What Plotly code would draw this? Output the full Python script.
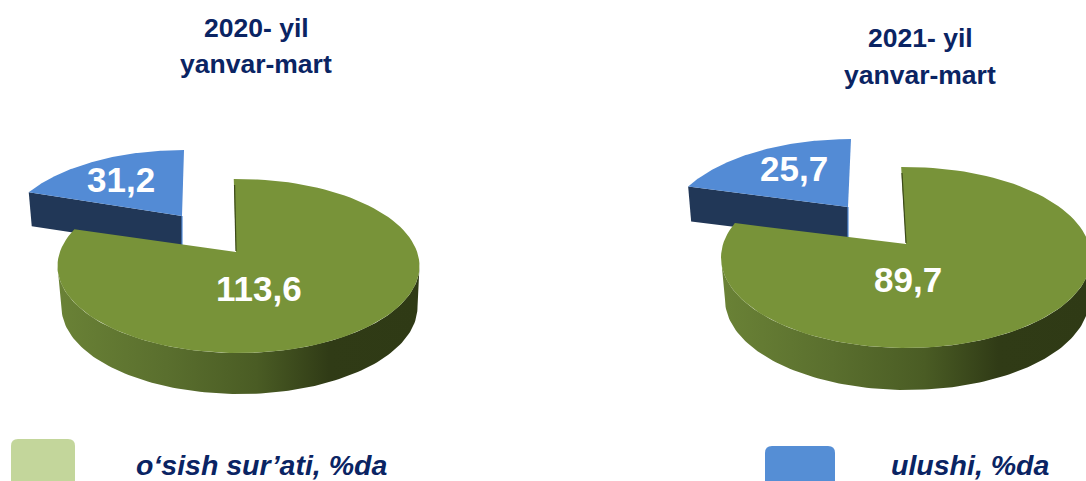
import numpy as np
import plotly.graph_objects as go

# ---- data ----
years = ["2020- yil<br>yanvar-mart", "2021- yil<br>yanvar-mart"]
growth_values = [113.6, 89.7]
share_values = [31.2, 25.7]
legend_labels = ["o‘sish sur’ati, %da", "ulushi, %da"]

# ---- style ----
GREEN = "#789339"
BLUE = "#538bd5"
NAVY_WALL = "#213757"
TEXT = "#0a2463"
FONT = "Liberation Sans"
WALL_SCALE = [[0, "#6a8236"], [0.3, "#5a6f2e"], [0.55, "#4a5c24"], [0.75, "#303b16"], [1, "#2f3a15"]]
# layout of each 3-D pie, in page units
LAYOUT = [
    dict(c=(238.5, 266), r=(181, 87), apex=(236, 252), depth=41,
         bc=(184, 237), bapex=(182, 216), bdepth=33,
         title_x=256, title_y=(28, 64), lg=(259, 288), lb=(121, 179)),
    dict(c=(906, 257.5), r=(185, 90.5), apex=(906, 244), depth=42,
         bc=(851, 229.5), bapex=(848, 207), bdepth=34,
         title_x=920, title_y=(38, 75), lg=(908, 279), lb=(794, 168)),
]
EXTRA = 14   # perspective widening of the large slice, degrees


def rim(c, r, t0, t1, n=120):
    t = np.radians(np.linspace(t0, t1, n))
    return c[0] + r[0] * np.sin(t), c[1] - r[1] * np.cos(t)


fig = go.Figure()


def poly(x, y, **kw):
    fig.add_trace(go.Scatter(x=list(x), y=list(y), mode="lines", fill="toself",
                             line=dict(width=0), hoverinfo="skip", showlegend=False, **kw))


for g, s, L in zip(growth_values, share_values, LAYOUT):
    total = g + s
    g_deg = g / total * 360 + EXTRA
    s_deg = s / total * 360 - 18.5

    # blue slice: wall then top
    bx, by = rim(L["bc"], L["r"], -s_deg, 0)
    d = L["bdepth"]
    poly([bx[0], bx[0] + 3, L["bapex"][0], L["bapex"][0]],
         [by[0], by[0] + d + 1, L["bapex"][1] + d, L["bapex"][1]], fillcolor=NAVY_WALL)
    poly(list(bx) + [L["bapex"][0]], list(by) + [L["bapex"][1]], fillcolor=BLUE)
    fig.add_trace(go.Scatter(x=[L["bapex"][0], L["bapex"][0]], y=[L["bapex"][1], L["bapex"][1] + d],
                             mode="lines", line=dict(color=BLUE, width=1.2),
                             hoverinfo="skip", showlegend=False))

    # green slice: outer wall then top
    wx, wy = rim(L["c"], L["r"], 90, 270)
    lx, ly = rim((L["c"][0] + 1, L["c"][1] + L["depth"]), (L["r"][0] - 3, L["r"][1]), 270, 90)
    poly(list(wx) + list(lx), list(wy) + list(ly),
         fillgradient=dict(type="horizontal", colorscale=WALL_SCALE))
    gx, gy = rim(L["c"], L["r"], -1.5, g_deg - 1.5)
    poly(list(gx) + [L["apex"][0]], list(gy) + [L["apex"][1]], fillcolor=GREEN)
    fig.add_trace(go.Scatter(x=[gx[0] + 0.8, L["apex"][0]], y=[gy[0] + 6, L["apex"][1] - 1],
                             mode="lines", line=dict(color="#3c4a1a", width=1.2),
                             hoverinfo="skip", showlegend=False))

annotations = []


def note(x, y, text, size, color):
    annotations.append(dict(x=x, y=y, xref="x", yref="y", text=text, showarrow=False,
                            font=dict(family=FONT, size=size, color=color)))


for g, s, L, year in zip(growth_values, share_values, LAYOUT, years):
    for line, yy in zip(year.split("<br>"), L["title_y"]):
        note(L["title_x"], yy, f"<b>{line}</b>", 26.5, TEXT)
    note(*L["lg"], f"<b>{str(g).replace('.', ',')}</b>", 35, "white")
    note(*L["lb"], f"<b>{str(s).replace('.', ',')}</b>", 35, "white")

note(261, 464.5, f"<b><i>{legend_labels[0]}</i></b>", 28.5, TEXT)
note(970.5, 464.5, f"<b><i>{legend_labels[1]}</i></b>", 28.5, TEXT)


def rounded(x0, y0, x1, y1, r, fill):
    path = (f"M {x0 + r} {y0} L {x1 - r} {y0} Q {x1} {y0} {x1} {y0 + r} L {x1} {y1} "
            f"L {x0} {y1} L {x0} {y0 + r} Q {x0} {y0} {x0 + r} {y0} Z")
    return dict(type="path", path=path, xref="x", yref="y", fillcolor=fill, line=dict(width=0))


fig.update_layout(
    width=1086, height=481, autosize=False,
    margin=dict(l=0, r=0, t=0, b=0),
    paper_bgcolor="white", plot_bgcolor="white",
    xaxis=dict(range=[0, 1086], visible=False, fixedrange=True),
    yaxis=dict(range=[481, 0], visible=False, fixedrange=True),
    annotations=annotations,
    shapes=[rounded(11, 439, 75, 490, 7, "#c3d69b"), rounded(765, 446, 835, 490, 7, "#558ed5")],
    showlegend=False,
)
fig.write_html("out.html", config={"displayModeBar": False},
               post_script="document.body.style.margin='0';document.body.style.overflow='hidden';")
